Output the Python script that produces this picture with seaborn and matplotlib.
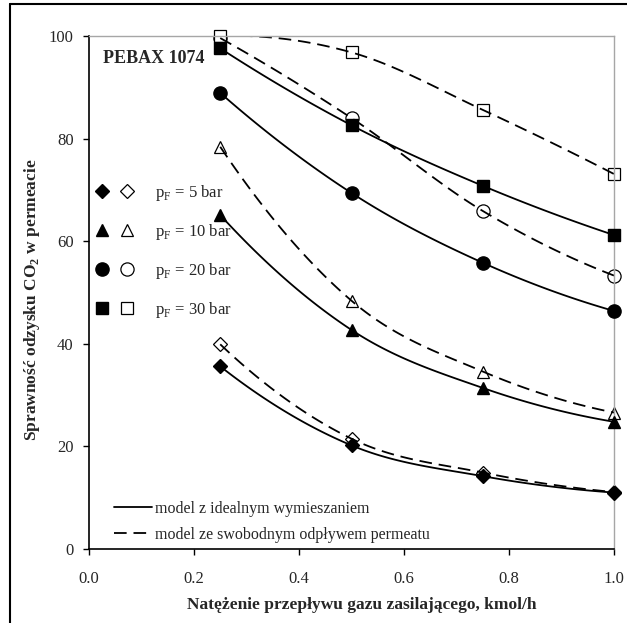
import numpy as np
import pandas as pd
import matplotlib
matplotlib.use("Agg")
import matplotlib.pyplot as plt
import seaborn as sns
from matplotlib.lines import Line2D
from matplotlib.legend_handler import HandlerTuple

# ---- data ----
flow = [0.25, 0.5, 0.75, 1.0]
pressure_labels = ["5", "10", "20", "30"]
ideal_5 = [35.6, 20.2, 14.2, 11.0]
ideal_10 = [65.1, 42.7, 31.4, 24.8]
ideal_20 = [88.9, 69.4, 55.8, 46.4]
ideal_30 = [97.6, 82.6, 70.8, 61.2]
free_5 = [39.9, 21.5, 14.9, 11.1]
free_10 = [78.4, 48.4, 34.6, 26.6]
free_20 = [99.6, 84.0, 65.9, 53.3]
free_30 = [100.0, 96.8, 85.6, 73.1]
x_ticks = [0.0, 0.2, 0.4, 0.6, 0.8, 1.0]
y_ticks = [0, 20, 40, 60, 80, 100]

ideal = [ideal_5, ideal_10, ideal_20, ideal_30]
free = [free_5, free_10, free_20, free_30]
markers = ["D", "^", "o", "s"]
msizes = [7, 9, 9.5, 9]


def smooth(xs, ys, n=40):
    """Excel-like smoothed line (Catmull-Rom Bezier) through the points."""
    P = np.column_stack([xs, ys]).astype(float)
    first = 3 * P[0] - 3 * P[1] + P[2]
    last = 3 * P[-1] - 3 * P[-2] + P[-3]
    Q = np.vstack([first, P, last])
    out = []
    t = np.linspace(0, 1, n)[:, None]
    for i in range(1, len(Q) - 2):
        p0, p1, p2, p3 = Q[i - 1], Q[i], Q[i + 1], Q[i + 2]
        c1 = p1 + (p2 - p0) / 6
        c2 = p2 - (p3 - p1) / 6
        seg = ((1 - t) ** 3) * p1 + 3 * ((1 - t) ** 2) * t * c1 + 3 * (1 - t) * t ** 2 * c2 + t ** 3 * p2
        out.append(seg if i == 1 else seg[1:])
    S = np.vstack(out)
    return S[:, 0], S[:, 1]


sns.set_style("ticks")
plt.rcParams["font.family"] = ["Liberation Serif", "DejaVu Serif"]
plt.rcParams["mathtext.fontset"] = "custom"
plt.rcParams["mathtext.rm"] = "Liberation Serif"
plt.rcParams["mathtext.bf"] = "Liberation Serif:bold"

fig = plt.figure(figsize=(6.27, 6.23), dpi=100)
ax = fig.add_axes([89 / 627, 1 - 549 / 623, 525 / 627, 513 / 623])

dash = (0, (7, 3.8))
for ys_i, ys_f, m, ms in zip(ideal, free, markers, msizes):
    xs, yi = smooth(flow, ys_i)
    sns.lineplot(x=xs, y=yi, ax=ax, color="black", lw=1.3, sort=False, estimator=None, zorder=2)
    xs, yf = smooth(flow, ys_f)
    sns.lineplot(x=xs, y=yf, ax=ax, color="black", lw=1.3, sort=False, estimator=None,
                 zorder=2).lines[-1].set_linestyle(dash)
    ax.plot(flow, ys_f, ls="none", marker=m, ms=ms, mfc="white", mec="black", mew=0.9, zorder=1.5, clip_on=False)
    ax.plot(flow, ys_i, ls="none", marker=m, ms=ms, mfc="black", mec="black", zorder=3, clip_on=False)

ax.set_xlim(0, 1.0)
ax.set_ylim(0, 100)
ax.set_xticks(x_ticks)
ax.set_xticklabels([f"{v:.1f}" for v in x_ticks])
ax.set_yticks(y_ticks)
ax.set_yticklabels([str(v) for v in y_ticks])
ax.tick_params(direction="out", length=4, width=1, labelsize=12, color="black")
ax.tick_params(axis="x", pad=12)
ax.tick_params(axis="y", pad=7)
for s in ["left", "bottom"]:
    ax.spines[s].set_color("black")
    ax.spines[s].set_linewidth(1.2)
for s in ["top", "right"]:
    ax.spines[s].set_visible(True)
    ax.spines[s].set_color("#a6a6a6")
    ax.spines[s].set_linewidth(1.0)

ax.set_xlabel("Natężenie przepływu gazu zasilającego, kmol/h", fontsize=12.5, fontweight="bold")
ax.set_ylabel(r"Sprawność odzysku CO$_\mathbf{2}$ w permeacie", fontsize=12.5, fontweight="bold")
ax.yaxis.set_label_coords(-0.09, 0.485)
ax.xaxis.set_label_coords(0.52, -0.093)

ax.text(0.027, 95.6, "PEBAX 1074", fontsize=13, fontweight="bold", va="center", ha="left")

# marker legend
handles = []
labels = []
for m, ms, p in zip(markers, msizes, pressure_labels):
    h1 = Line2D([], [], ls="none", marker=m, ms=ms, mfc="black", mec="black")
    h2 = Line2D([], [], ls="none", marker=m, ms=ms, mfc="white", mec="black", mew=0.9)
    handles.append((h1, h2))
    labels.append(r"p$_\mathrm{F}$ = " + p + " bar")
leg1 = ax.legend(handles, labels, handler_map={tuple: HandlerTuple(ndivide=None, pad=0.6)},
                 loc="upper left", bbox_to_anchor=(-0.012, 0.737), frameon=False, fontsize=12,
                 handlelength=2.4, handletextpad=1.25, labelspacing=1.15, borderaxespad=0.3)
ax.add_artist(leg1)

lh = [Line2D([], [], color="black", lw=1.3), Line2D([], [], color="black", lw=1.3, ls=dash)]
ax.legend(lh, ["model z idealnym wymieszaniem", "model ze swobodnym odpływem permeatu"],
          loc="lower left", bbox_to_anchor=(0.035, 0.0), frameon=False, fontsize=11.5,
          handlelength=2.4, handletextpad=0.2, labelspacing=0.62, borderaxespad=0.0)

# outer frame: only top and left edges are visible in the reference
fig.add_artist(Line2D([10 / 627, 1.0], [1 - 4 / 623, 1 - 4 / 623], transform=fig.transFigure, color="black", lw=1.5))
fig.add_artist(Line2D([10 / 627, 10 / 627], [0.0, 1 - 4 / 623], transform=fig.transFigure, color="black", lw=1.5))

fig.savefig("out.png", dpi=100)
